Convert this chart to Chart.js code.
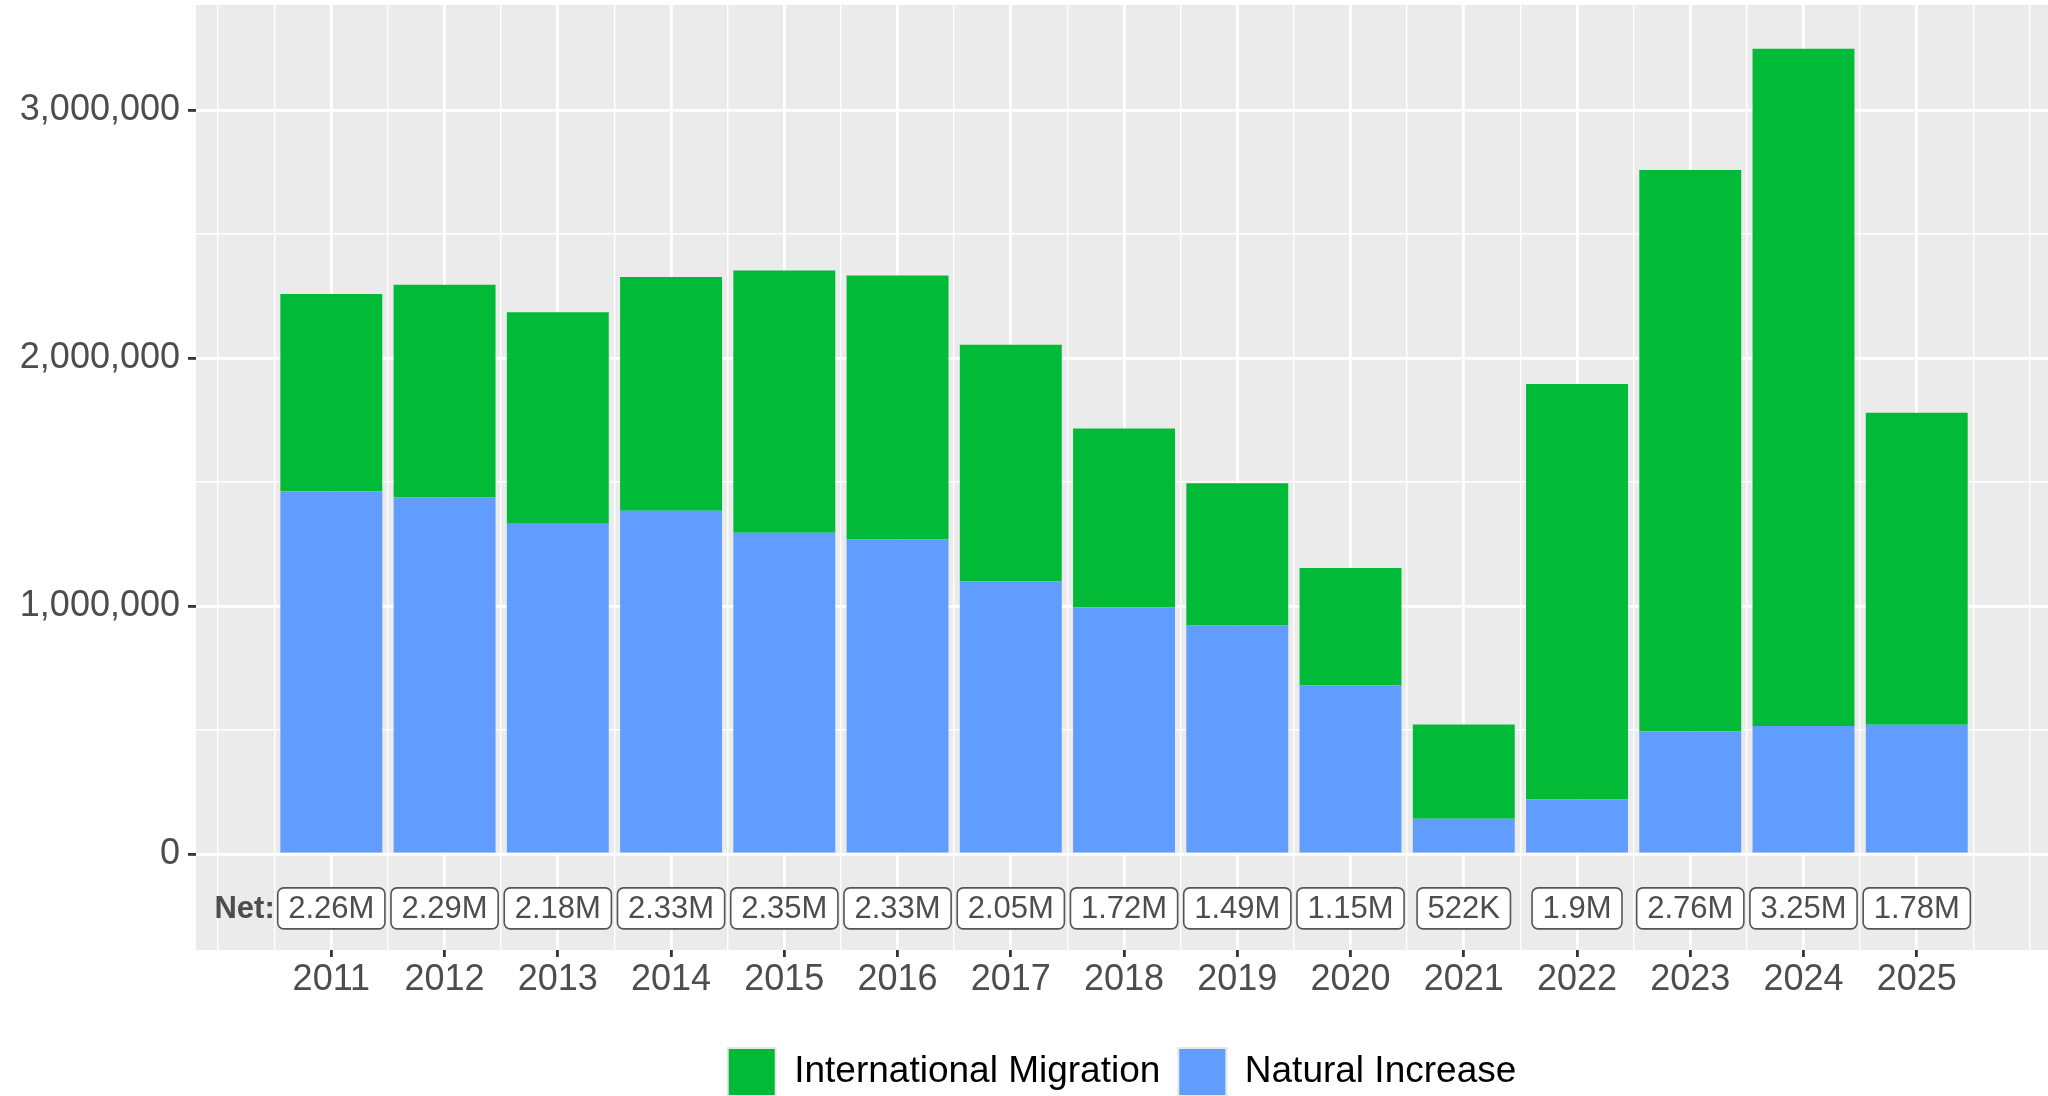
<!DOCTYPE html>
<html>
<head>
<meta charset="utf-8">
<script src="https://cdn.jsdelivr.net/npm/chart.js@4.4.1/dist/chart.umd.min.js"></script>
<style>
  html, body { margin: 0; padding: 0; background: #ffffff; }
  #wrap { width: 2048px; height: 1096px; }
</style>
</head>
<body>
<div id="wrap"><canvas id="c" width="2048" height="1096"></canvas></div>
<script>
// ---- data ----
const years = [2011, 2012, 2013, 2014, 2015, 2016, 2017, 2018, 2019, 2020, 2021, 2022, 2023, 2024, 2025];
const naturalIncrease = [1463000, 1437000, 1332000, 1384000, 1295000, 1268000, 1100000, 995000, 921000, 679000, 142000, 221000, 495000, 516000, 521000];
const internationalMigration = [795000, 858000, 852000, 942000, 1058000, 1064000, 953000, 721000, 574000, 474000, 380000, 1674000, 2263000, 2731000, 1258000];
const netLabels = ['2.26M', '2.29M', '2.18M', '2.33M', '2.35M', '2.33M', '2.05M', '1.72M', '1.49M', '1.15M', '522K', '1.9M', '2.76M', '3.25M', '1.78M'];
const netTitle = 'Net:';
const yMajorTicks = [0, 1000000, 2000000, 3000000];
const yMinorTicks = [500000, 1500000, 2500000];
const xMinorTicks = [2010, 2010.5, 2011.5, 2012.5, 2013.5, 2014.5, 2015.5, 2016.5, 2017.5, 2018.5, 2019.5, 2020.5, 2021.5, 2022.5, 2023.5, 2024.5, 2025.5, 2026];
const seriesNames = ['Natural Increase', 'International Migration'];

// ---- layout / style constants ----
const X_MIN = 2009.805, X_MAX = 2026.159;
const Y_MIN = -387000, Y_MAX = 3423000;
const NET_LABEL_Y = -219000;
const NET_TITLE_X = 2010.5;
const FONT = '"Liberation Sans", Arial, Helvetica, sans-serif';
const GREEN = '#00BA38', BLUE = '#619CFF';
const MAJOR_W = 2.8, MINOR_W = 1.4;

const panelBg = {
  id: 'panelBg',
  beforeDraw(chart) {
    const { ctx, chartArea: a } = chart;
    ctx.save();
    ctx.fillStyle = '#EBEBEB';
    ctx.fillRect(a.left, a.top, a.right - a.left, a.bottom - a.top);
    ctx.restore();
  }
};

function roundRectPath(ctx, x, y, w, h, r) {
  ctx.beginPath();
  ctx.moveTo(x + r, y);
  ctx.lineTo(x + w - r, y);
  ctx.arcTo(x + w, y, x + w, y + r, r);
  ctx.lineTo(x + w, y + h - r);
  ctx.arcTo(x + w, y + h, x + w - r, y + h, r);
  ctx.lineTo(x + r, y + h);
  ctx.arcTo(x, y + h, x, y + h - r, r);
  ctx.lineTo(x, y + r);
  ctx.arcTo(x, y, x + r, y, r);
  ctx.closePath();
}

const netLabelPlugin = {
  id: 'netLabels',
  afterDatasetsDraw(chart) {
    const { ctx, scales } = chart;
    const xs = scales.x, ys = scales.y;
    const py = ys.getPixelForValue(NET_LABEL_Y);
    ctx.save();
    ctx.font = '31px ' + FONT;
    ctx.textAlign = 'center';
    ctx.textBaseline = 'middle';
    years.forEach((yr, i) => {
      const px = xs.getPixelForValue(yr);
      const tw = ctx.measureText(netLabels[i]).width;
      const w = tw + 21, h = 41;
      roundRectPath(ctx, px - w / 2, py - h / 2, w, h, 6);
      ctx.fillStyle = '#FFFFFF';
      ctx.fill();
      ctx.lineWidth = 1.6;
      ctx.strokeStyle = '#555555';
      ctx.stroke();
      ctx.fillStyle = '#4D4D4D';
      ctx.fillText(netLabels[i], px, py + 1);
    });
    ctx.font = 'bold 31px ' + FONT;
    ctx.textAlign = 'right';
    ctx.fillStyle = '#4D4D4D';
    ctx.fillText(netTitle, xs.getPixelForValue(NET_TITLE_X), py + 1);
    ctx.restore();
  }
};

const isYMajor = v => yMajorTicks.includes(v);

new Chart(document.getElementById('c'), {
  type: 'bar',
  data: {
    datasets: [
      {
        label: seriesNames[0],
        data: years.map((yr, i) => ({ x: yr, y: naturalIncrease[i] })),
        backgroundColor: BLUE,
        borderWidth: 0,
        barPercentage: 0.9,
        categoryPercentage: 1.0
      },
      {
        label: seriesNames[1],
        data: years.map((yr, i) => ({ x: yr, y: internationalMigration[i] })),
        backgroundColor: GREEN,
        borderWidth: 0,
        barPercentage: 0.9,
        categoryPercentage: 1.0
      }
    ]
  },
  options: {
    responsive: false,
    animation: false,
    devicePixelRatio: 1,
    layout: { autoPadding: false, padding: { top: 5, right: 0, left: 0, bottom: -10 } },
    plugins: {
      legend: {
        position: 'bottom',
        fullSize: false,
        reverse: true,
        labels: {
          boxWidth: 48,
          boxHeight: 48,
          padding: 18,
          color: '#000000',
          font: { family: FONT, size: 37 },
          generateLabels(chart) {
            return Chart.defaults.plugins.legend.labels.generateLabels(chart).map(l => Object.assign(l, {
              strokeStyle: '#E6E6E6', lineWidth: 2
            }));
          }
        }
      },
      tooltip: { enabled: false }
    },
    scales: {
      x: {
        type: 'linear',
        min: X_MIN,
        max: X_MAX,
        stacked: true,
        offset: false,
        afterBuildTicks: s => { s.ticks = years.map(v => ({ value: v })); },
        afterFit: s => { s.height = 80; s.paddingLeft = 0; s.paddingRight = 0; },
        ticks: {
          autoSkip: false, maxRotation: 0, minRotation: 0, padding: 1,
          color: '#4D4D4D',
          font: { family: FONT, size: 36 },
          callback: v => String(v)
        },
        grid: {
          offset: false,
          color: '#FFFFFF',
          lineWidth: MAJOR_W,
          drawTicks: true,
          tickLength: 7,
          tickColor: '#333333',
          tickWidth: MAJOR_W
        },
        border: { display: false }
      },
      x2: {
        type: 'linear',
        axis: 'x',
        position: 'bottom',
        min: X_MIN,
        max: X_MAX,
        offset: false,
        afterBuildTicks: s => { s.ticks = xMinorTicks.map(v => ({ value: v })); },
        afterFit: s => { s.height = 0; s.paddingLeft = 0; s.paddingRight = 0; },
        ticks: { display: false },
        grid: { offset: false, color: '#FFFFFF', lineWidth: MINOR_W, drawTicks: false },
        border: { display: false }
      },
      y: {
        type: 'linear',
        min: Y_MIN,
        max: Y_MAX,
        stacked: true,
        afterBuildTicks: s => {
          s.ticks = yMajorTicks.concat(yMinorTicks).sort((a, b) => a - b).map(v => ({ value: v }));
        },
        afterFit: s => { s.width = 196; s.paddingTop = 0; s.paddingBottom = 0; },
        ticks: {
          autoSkip: false, padding: 8,
          color: '#4D4D4D',
          font: { family: FONT, size: 36 },
          callback: v => isYMajor(v) ? v.toLocaleString('en-US') : ''
        },
        grid: {
          color: '#FFFFFF',
          lineWidth: ctx => (ctx.tick && isYMajor(ctx.tick.value)) ? MAJOR_W : MINOR_W,
          drawTicks: true,
          tickLength: 8,
          tickColor: ctx => (ctx.tick && isYMajor(ctx.tick.value)) ? '#333333' : 'rgba(0,0,0,0)',
          tickWidth: MAJOR_W
        },
        border: { display: false }
      }
    }
  },
  plugins: [panelBg, netLabelPlugin]
});
</script>
</body>
</html>
